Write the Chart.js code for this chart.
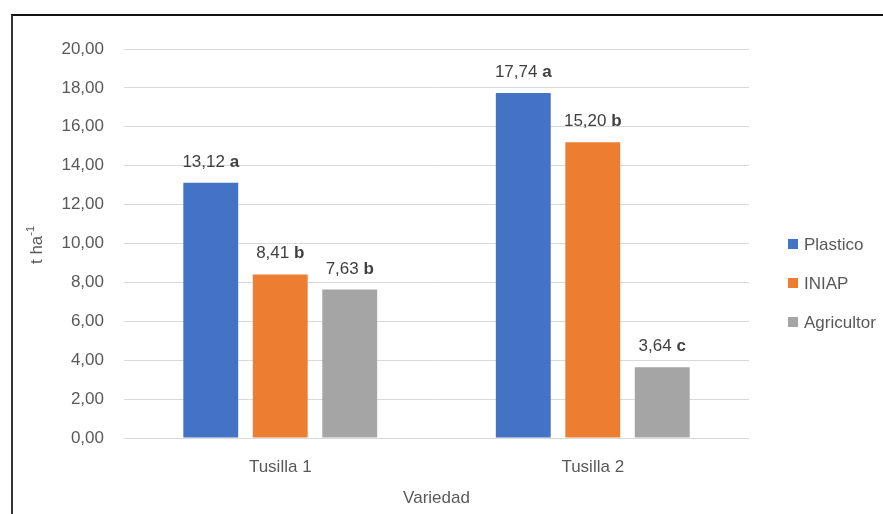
<!DOCTYPE html>
<html>
<head>
<meta charset="utf-8">
<script src="https://cdn.jsdelivr.net/npm/chart.js@4/dist/chart.umd.min.js"></script>
<style>
  html, body { margin: 0; padding: 0; background: #fff; }
  #wrap { position: relative; width: 883px; height: 514px; overflow: hidden; }
  #frame { position: absolute; left: 11px; top: 14px; width: 900px; height: 520px;
           border-top: 2px solid #111; border-left: 2px solid #333; box-sizing: border-box; }
  canvas { position: absolute; left: 0; top: 0; }
</style>
</head>
<body>
<div id="wrap">
  <div id="frame"></div>
  <canvas id="c" width="883" height="514"></canvas>
</div>
<script>
// Yield (t ha-1) by variety and treatment
const categories = ['Tusilla 1', 'Tusilla 2'];
const seriesNames = ['Plastico', 'INIAP', 'Agricultor'];
const plastico = [13.12, 17.74];
const iniap = [8.41, 15.20];
const agricultor = [7.63, 3.64];
const plasticoLetters = ['a', 'a'];
const iniapLetters = ['b', 'b'];
const agricultorLetters = ['b', 'c'];
const colors = ['#4472C4', '#ED7D31', '#A5A5A5'];
const yTickValues = [0, 2, 4, 6, 8, 10, 12, 14, 16, 18, 20];

const FONT = "'Liberation Sans', Arial, sans-serif";
const fmt = v => v.toFixed(2).replace('.', ',');

// Value + significance letter above each bar
const barLabels = {
  id: 'barLabels',
  afterDatasetsDraw(chart) {
    const ctx = chart.ctx;
    chart.data.datasets.forEach((ds, di) => {
      const meta = chart.getDatasetMeta(di);
      meta.data.forEach((bar, i) => {
        const num = fmt(ds.data[i]) + ' ';
        const letter = ds.letters[i];
        ctx.save();
        ctx.fillStyle = '#404040';
        ctx.textBaseline = 'alphabetic';
        ctx.textAlign = 'left';
        ctx.font = '17px ' + FONT;
        const w1 = ctx.measureText(num).width;
        ctx.font = 'bold 17px ' + FONT;
        const w2 = ctx.measureText(letter).width;
        const x0 = bar.x - (w1 + w2) / 2;
        const yb = bar.y - 16;
        ctx.font = '17px ' + FONT;
        ctx.fillText(num, x0, yb);
        ctx.font = 'bold 17px ' + FONT;
        ctx.fillText(letter, x0 + w1, yb);
        ctx.restore();
      });
    });
  }
};

// Legend on the right and the rotated y-axis title with superscript
const sideText = {
  id: 'sideText',
  afterDraw(chart) {
    const ctx = chart.ctx;
    ctx.save();
    ctx.font = '17px ' + FONT;
    ctx.textBaseline = 'middle';
    ctx.textAlign = 'left';
    chart.data.datasets.forEach((ds, i) => {
      const y = 244 + i * 39;
      ctx.fillStyle = ds.backgroundColor;
      ctx.fillRect(788, y - 5, 10, 10);
      ctx.fillStyle = '#595959';
      ctx.fillText(ds.label, 804, y + 1);
    });
    ctx.restore();

    ctx.save();
    ctx.translate(36, 245);
    ctx.rotate(-Math.PI / 2);
    ctx.fillStyle = '#595959';
    ctx.textBaseline = 'middle';
    ctx.font = '17px ' + FONT;
    const main = 't ha';
    const sup = '-1';
    const wm = ctx.measureText(main).width;
    ctx.font = '11px ' + FONT;
    const ws = ctx.measureText(sup).width;
    const x0 = -(wm + ws) / 2;
    ctx.font = '17px ' + FONT;
    ctx.textAlign = 'left';
    ctx.fillText(main, x0, 1);
    ctx.font = '11px ' + FONT;
    ctx.fillText(sup, x0 + wm, -5);
    ctx.restore();
  }
};

const letterSets = [plasticoLetters, iniapLetters, agricultorLetters];
const valueSets = [plastico, iniap, agricultor];

new Chart(document.getElementById('c'), {
  type: 'bar',
  data: {
    labels: categories,
    datasets: seriesNames.map((name, i) => ({
      label: name,
      data: valueSets[i],
      letters: letterSets[i],
      backgroundColor: colors[i],
      categoryPercentage: 0.667,
      barPercentage: 0.79
    }))
  },
  options: {
    responsive: false,
    animation: false,
    devicePixelRatio: 1,
    layout: { padding: { left: 0, right: 134, top: 49, bottom: 0 } },
    plugins: {
      legend: { display: false },
      tooltip: { enabled: false }
    },
    scales: {
      x: {
        grid: { display: false },
        border: { display: false },
        ticks: { color: '#595959', font: { family: FONT, size: 17 }, padding: 11 },
        title: { display: true, text: 'Variedad', color: '#595959',
                 font: { family: FONT, size: 17 }, padding: { top: 0, bottom: 5 } },
        afterFit(s) { s.height = 76; }
      },
      y: {
        min: 0, max: 20,
        afterBuildTicks(s) { s.ticks = yTickValues.map(v => ({ value: v })); },
        grid: { color: '#D9D9D9', lineWidth: 1, drawTicks: false },
        border: { display: false },
        ticks: { color: '#595959', font: { family: FONT, size: 17 }, padding: 20,
                 callback: v => fmt(v) },
        afterFit(s) { s.width = 124; }
      }
    }
  },
  plugins: [barLabels, sideText]
});
</script>
</body>
</html>
